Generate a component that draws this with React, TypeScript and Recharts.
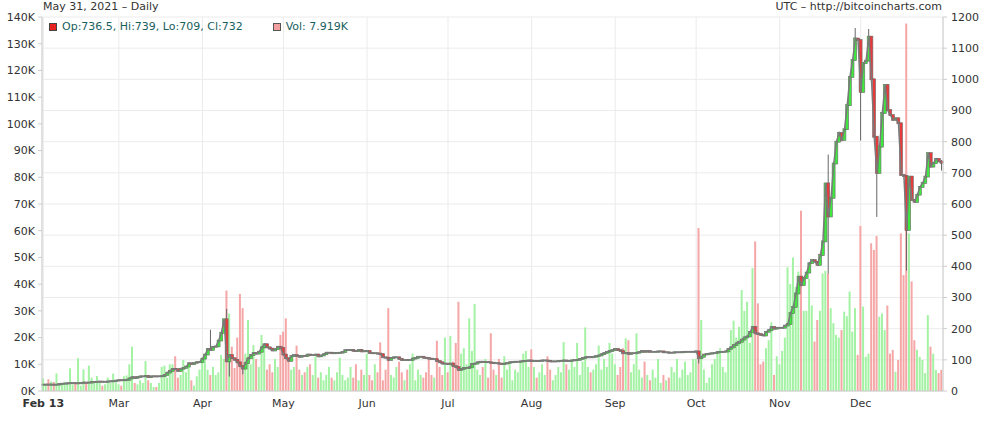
import { ComposedChart, Bar, Line, XAxis, YAxis, CartesianGrid, Cell } from 'recharts';

// Daily closes (USD), Feb 1 2013 .. Dec 31 2013
const closeFeb = [20.4, 20.6, 20.5, 20.6, 20.4, 20.6, 22.2, 23.6, 23.9, 24.6, 24.9, 25.2, 24.5, 24.6, 25.5, 27.1, 26.8, 26.9, 29.2, 29.6, 29.8, 30.2, 29.8, 29.8, 30.4, 31.1, 31.2, 33.4];
const closeMar = [34.5, 34.2, 34.5, 36.2, 40.4, 44.2, 42.1, 44.9, 46.9, 46.9, 48.4, 44.2, 46.9, 47.0, 46.9, 47.0, 47.4, 51.4, 59.0, 64.3, 70.9, 69.9, 64.3, 71.5, 73.6, 78.5, 88.9, 86.2, 90.5, 92.2, 93.0];
const closeApr = [104, 117, 135, 132, 142, 143, 162, 187, 230, 95, 115, 105, 100, 92, 80, 72, 90, 105, 115, 122, 120, 126, 140, 150, 140, 136, 130, 134, 142, 138];
const closeMay = [117, 105, 97, 112, 115, 112, 110, 113, 112, 117, 115, 115, 117, 111, 114, 118, 123, 123, 121, 122, 122, 123, 125, 131, 131, 132, 129, 128, 132, 127, 128];
const closeJun = [128, 122, 121, 121, 120, 118, 108, 107, 100, 106, 108, 108, 103, 99, 100, 99, 100, 104, 106, 110, 110, 107, 106, 104, 102, 102, 96, 92, 88, 88];
const closeJul = [86, 88, 80, 77, 68, 70, 74, 74, 76, 87, 88, 92, 94, 93, 93, 92, 91, 89, 89, 88, 86, 88, 90, 92, 93, 94, 94, 95, 96, 97, 98];
const closeAug = [96, 97, 96, 97, 98, 98, 97, 95, 95, 95, 96, 97, 98, 96, 97, 98, 99, 100, 103, 106, 108, 109, 108, 110, 112, 114, 118, 122, 126, 128, 131];
const closeSep = [135, 131, 128, 121, 122, 119, 121, 121, 123, 125, 128, 126, 128, 126, 126, 126, 127, 127, 124, 124, 123, 123, 124, 124, 124, 125, 126, 126, 126, 126];
const closeOct = [127, 105, 110, 117, 119, 120, 121, 122, 125, 125, 126, 127, 135, 140, 147, 153, 158, 165, 172, 175, 190, 205, 185, 183, 180, 178, 190, 195, 205, 200, 203];
const closeNov = [203, 203, 210, 215, 250, 270, 313, 367, 340, 363, 380, 410, 420, 415, 405, 436, 480, 666, 560, 620, 730, 800, 828, 806, 840, 917, 1008, 1062, 1131, 1126];
const closeDec = [960, 1052, 1060, 1137, 1000, 816, 700, 784, 892, 982, 901, 885, 870, 875, 859, 693, 690, 517, 688, 613, 607, 630, 655, 668, 688, 763, 720, 731, 745, 736.5, 732];

// Daily volume (thousands)
const volFeb = [4.7, 2.5, 4.4, 3.6, 3.4, 6.6, 3.0, 2.5, 3.5, 2.8, 8.5, 2.5, 3.0, 12.3, 2.0, 8.1, 3.0, 9.5, 5.0, 3.4, 5.6, 3.0, 2.0, 2.5, 5.0, 3.0, 6.5, 3.2];
const volMar = [2.5, 2.0, 5.5, 5.8, 10, 16.6, 3, 2.5, 4, 3, 11.2, 4, 3, 1.5, 1.5, 3, 9, 9.5, 5, 10, 10, 13, 5, 6, 11.6, 7, 10, 4, 2, 5.5, 8];
const volApr = [12, 13, 8, 6, 9, 6, 7, 13.5, 12, 37.6, 29, 16.6, 8.6, 20, 36.3, 31, 14, 26.6, 10, 17.2, 12, 9, 21, 17, 8, 10, 7, 12, 9, 21];
const volMay = [22.2, 27.2, 12, 8, 9, 17, 8, 6, 7, 9, 10, 6, 12.9, 5, 7, 4, 6, 9, 5, 4, 7, 12.5, 6, 4, 5, 9, 5, 10, 4, 8, 6];
const volJun = [14, 6, 4, 10, 7, 18.2, 4, 8, 31, 6, 5, 9, 11, 7, 4, 8, 10, 14, 4, 8, 6, 5, 7, 12, 6, 5, 18.8, 9, 6, 20];
const volJul = [7, 20.6, 11, 18, 33.4, 14, 16, 10, 27.2, 15, 32.6, 8, 6, 9, 12, 5, 21.6, 8, 6, 12, 5, 13, 8, 10, 4, 8, 7, 11, 14, 15, 9];
const volAug = [15.6, 9, 5, 7, 10, 6, 13, 8, 4, 6, 9, 7, 18.3, 10, 8, 12, 9, 18, 6, 11, 23.8, 9, 7, 8, 10, 17, 8, 12, 9, 18, 14];
const volSep = [10, 6, 9, 16, 19.7, 19, 7, 10, 21.6, 8, 5, 11, 6, 4, 8, 5, 12, 3, 6, 4, 5, 9, 7, 12, 5, 8, 11, 6, 7, 12];
const volOct = [12, 61, 26.6, 8, 3, 5, 10, 12, 14, 16, 9, 7, 15, 22.8, 26.3, 20, 24, 37.8, 30, 33.4, 18, 46, 56, 32.8, 10, 11, 16, 19, 25.7, 6, 13];
const volNov = [10, 15, 20, 46.3, 40, 50, 39, 44.7, 67.5, 30, 30, 42, 32, 18.5, 26.6, 30, 44, 45, 44, 31, 25.4, 21, 20, 22.8, 29.7, 28, 37.2, 22.2, 31, 13.5];
const volDec = [61.8, 31.6, 12.8, 14, 55.3, 52.8, 58, 27.8, 29, 22.8, 32, 14, 15.4, 7.2, 11.6, 59, 43.4, 137.6, 59, 41, 19, 15.4, 12.8, 11.6, 6.7, 28.4, 16.6, 14, 7.9, 6.7, 7.919];

// days whose high/low reach well beyond the candle body
const wicks: { day: string; high?: number; low?: number }[] = [
  { day: '2013-04-04', high: 195 },
  { day: '2013-04-10', high: 262 },
  { day: '2013-04-11', low: 48 },
  { day: '2013-04-16', low: 55 },
  { day: '2013-10-02', low: 90 },
  { day: '2013-11-19', high: 757, low: 378 },
  { day: '2013-11-29', high: 1163 },
  { day: '2013-12-01', low: 805 },
  { day: '2013-12-04', high: 1160 },
  { day: '2013-12-07', low: 560 },
  { day: '2013-12-18', low: 388 },
  { day: '2013-12-31', high: 739, low: 709 },
];

const monthTicks = ['2013-02-01', '2013-03-01', '2013-04-01', '2013-05-01', '2013-06-01', '2013-07-01', '2013-08-01', '2013-09-01', '2013-10-01', '2013-11-01', '2013-12-01'];
const monthLabels = ['Feb 13', 'Mar', 'Apr', 'May', 'Jun', 'Jul', 'Aug', 'Sep', 'Oct', 'Nov', 'Dec'];
const volTicks = [0, 10, 20, 30, 40, 50, 60, 70, 80, 90, 100, 110, 120, 130, 140];
const priceTicks = [0, 100, 200, 300, 400, 500, 600, 700, 800, 900, 1000, 1100, 1200];

const closes = [...closeFeb, ...closeMar, ...closeApr, ...closeMay, ...closeJun, ...closeJul, ...closeAug, ...closeSep, ...closeOct, ...closeNov, ...closeDec];
const volumes = [...volFeb, ...volMar, ...volApr, ...volMay, ...volJun, ...volJul, ...volAug, ...volSep, ...volOct, ...volNov, ...volDec];

const START = Date.UTC(2013, 1, 1);
const FONT = "'DejaVu Sans', Verdana, sans-serif";

const data = closes.map((close, i) => {
  const date = new Date(START + i * 86400000).toISOString().slice(0, 10);
  const open = i === 0 ? close : closes[i - 1];
  const w = wicks.find((k) => k.day === date);
  const high = Math.max(open, close, w?.high ?? -Infinity);
  const low = Math.min(open, close, w?.low ?? Infinity);
  return { date, open, close, high, low, vol: volumes[i], up: close >= open };
});

function Candle(props: any) {
  const { x, y, width, height, payload } = props;
  if (x == null || payload == null) return null;
  const { open, close, high, low, up } = payload;
  const top = Math.min(y, y + height);
  const h = Math.abs(height);
  const cx = x + width / 2;
  const span = high - low;
  const toY = (v: number) => (span === 0 ? top : top + ((high - v) / span) * h);
  const bTop = toY(Math.max(open, close));
  const bBot = toY(Math.min(open, close));
  return (
    <g>
      <line x1={cx} x2={cx} y1={top - 0.5} y2={top + h + 0.5} stroke="#666" strokeWidth={1} />
      <rect
        x={cx - 1.5}
        y={bTop - 0.5}
        width={3}
        height={Math.max(bBot - bTop, 0) + 1}
        fill={up ? '#3ee83e' : '#e83a3a'}
        stroke="#6c6c6c"
        strokeWidth={0.6}
      />
    </g>
  );
}

function MonthTick(props: any) {
  const { x, y, payload } = props;
  const i = monthTicks.indexOf(payload.value);
  return (
    <text x={x} y={y} dy="0.71em" textAnchor="middle" fontSize={11} fontFamily={FONT} fill="#333"
      fontWeight={i === 0 ? 'bold' : 'normal'}>
      {monthLabels[i]}
    </text>
  );
}

const tickStyle = { fontSize: 11, fontFamily: FONT, fill: '#333' };

export default function App() {
  return (
    <div style={{ position: 'absolute', left: 0, top: 0, width: 1002, height: 423, background: '#fff' }}>
      <ComposedChart width={1002} height={423} data={data} margin={{ top: 17, right: 9, bottom: 10, left: 8 }}>
        <CartesianGrid xAxisId="v" yAxisId="price" stroke="#ebebeb" />
        <XAxis xAxisId="c" dataKey="date" orientation="top" height={0} hide />
        <XAxis
          xAxisId="v"
          dataKey="date"
          ticks={monthTicks}
          interval={0}
          tick={<MonthTick />}
          axisLine={{ stroke: '#cccccc' }}
          tickLine={false}
          height={22}
        />
        <YAxis
          yAxisId="vol"
          domain={[0, 140]}
          ticks={volTicks}
          interval={0}
          tickFormatter={(v) => `${v}K`}
          width={34}
          tick={tickStyle}
          axisLine={{ stroke: '#cccccc' }}
          tickLine={{ stroke: '#cccccc' }}
          tickSize={4}
          tickMargin={3}
        />
        <YAxis
          yAxisId="price"
          orientation="right"
          domain={[0, 1200]}
          ticks={priceTicks}
          interval={0}
          width={50}
          tick={tickStyle}
          axisLine={{ stroke: '#cccccc' }}
          tickLine={{ stroke: '#cccccc' }}
          tickSize={4}
          tickMargin={4}
        />
        <Bar xAxisId="v" yAxisId="vol" dataKey="vol" barSize={2} isAnimationActive={false}>
          {data.map((d, i) => (
            <Cell key={i} fill={d.up ? '#a4f2a4' : '#f5a6a6'} />
          ))}
        </Bar>
        <Line xAxisId="c" yAxisId="price" dataKey="close" stroke="#7a7a7a" strokeWidth={1.5} dot={false}
          isAnimationActive={false} />
        <Bar xAxisId="c" yAxisId="price" dataKey={(d: any) => [d.low, d.high]} barSize={3}
          shape={<Candle />} isAnimationActive={false} />
      </ComposedChart>
      <div style={{ position: 'absolute', left: 43, top: 0, fontFamily: FONT, fontSize: 11, color: '#333', whiteSpace: 'nowrap' }}>
        May 31, 2021 – Daily
      </div>
      <div style={{ position: 'absolute', right: 60, top: 0, fontFamily: FONT, fontSize: 11, color: '#333', whiteSpace: 'nowrap' }}>
        UTC – http://bitcoincharts.com
      </div>
      <div style={{ position: 'absolute', left: 49, top: 20, display: 'flex', alignItems: 'center', fontFamily: FONT, fontSize: 11, color: '#1a6060', whiteSpace: 'nowrap' }}>
        <span style={{ width: 6, height: 6, background: '#e82020', border: '1px solid #444', marginRight: 5 }} />
        <span>Op:736.5, Hi:739, Lo:709, Cl:732</span>
        <span style={{ width: 6, height: 6, background: '#f4a0a0', border: '1px solid #555', marginLeft: 30, marginRight: 5 }} />
        <span>Vol: 7.919K</span>
      </div>
    </div>
  );
}
